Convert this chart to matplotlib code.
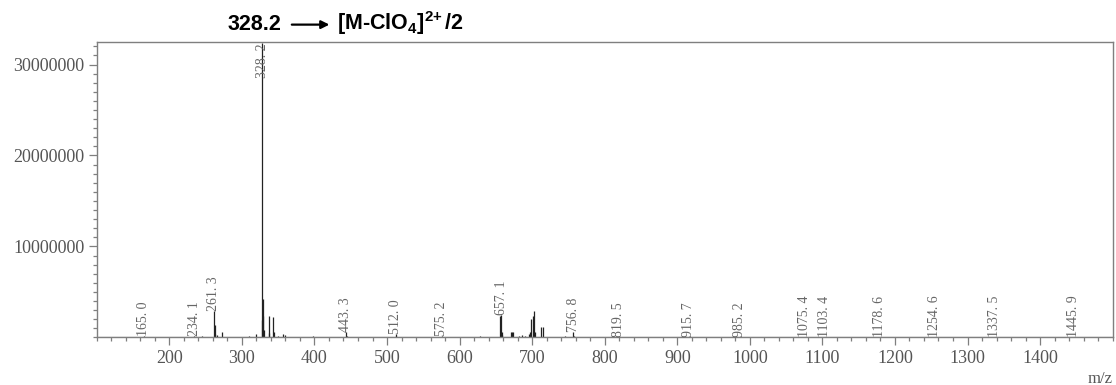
"""
ESI mass spectrum with labelled peaks.
"""

import matplotlib
matplotlib.use("Agg")
import matplotlib.pyplot as plt

# ------------------------------------------------------------
# Data
# ------------------------------------------------------------

# labelled peaks (m/z, intensity)
label_mz = [165.0, 234.1, 261.3, 328.2, 443.3, 512.0, 575.2, 657.1, 756.8,
            819.5, 915.7, 985.2, 1075.4, 1103.4, 1178.6, 1254.6, 1337.5, 1445.9]
label_int = [0.15e6, 0.12e6, 2.9e6, 32.4e6, 0.55e6, 0.35e6, 0.18e6, 2.5e6, 0.55e6,
             0.08e6, 0.06e6, 0.06e6, 0.05e6, 0.05e6, 0.05e6, 0.05e6, 0.05e6, 0.05e6]

# other peaks (isotopes, clusters)
peak_mz = [262.3, 263.3, 266.0, 273.2, 300.5, 320.0, 327.2, 328.7, 329.2, 330.2,
           336.7, 337.7, 343.2, 344.2, 350.3, 357.0, 359.0, 444.3, 513.0,
           655.6, 658.1, 659.1, 671.0, 672.5, 674.0, 682.0, 686.0, 690.0,
           695.0, 697.5, 698.8, 701.0, 703.2, 704.5, 712.8, 715.0, 757.8]
peak_int = [1.4e6, 0.35e6, 0.25e6, 0.6e6, 0.1e6, 0.35e6, 1.9e6, 4.2e6, 2.4e6, 0.8e6,
            2.4e6, 0.5e6, 2.2e6, 0.6e6, 0.2e6, 0.35e6, 0.25e6, 0.2e6, 0.15e6,
            2.4e6, 0.6e6, 0.3e6, 0.6e6, 0.65e6, 0.55e6, 0.2e6, 0.25e6, 0.2e6,
            0.35e6, 0.6e6, 2.0e6, 2.4e6, 2.9e6, 0.6e6, 1.1e6, 1.2e6, 0.2e6]

# baseline noise
noise_mz = [120, 135, 150, 178, 190, 205, 215, 245, 252, 280, 290, 310, 372, 385,
            398, 410, 425, 460, 475, 490, 530, 545, 560, 590, 605, 620, 628, 640,
            725, 735, 745, 770, 790, 850, 1010]
noise_int = [0.08e6, 0.05e6, 0.1e6, 0.06e6, 0.08e6, 0.05e6, 0.07e6, 0.12e6, 0.06e6,
             0.1e6, 0.08e6, 0.12e6, 0.1e6, 0.08e6, 0.12e6, 0.06e6, 0.08e6, 0.07e6,
             0.1e6, 0.08e6, 0.06e6, 0.1e6, 0.08e6, 0.1e6, 0.06e6, 0.08e6, 0.12e6,
             0.1e6, 0.1e6, 0.08e6, 0.12e6, 0.1e6, 0.06e6, 0.04e6, 0.04e6]

y_ticks = [10000000, 20000000, 30000000]
x_ticks = list(range(200, 1500, 100))

# ------------------------------------------------------------
# Plot
# ------------------------------------------------------------

plt.rcParams["mathtext.fontset"] = "custom"
plt.rcParams["mathtext.rm"] = "Liberation Sans:bold"
plt.rcParams["mathtext.bf"] = "Liberation Sans:bold"
plt.rcParams["mathtext.it"] = "Liberation Sans:bold"

grey = "#7f7f7f"
txt = "#555555"

fig = plt.figure(figsize=(11.16, 3.85), dpi=100)
ax = fig.add_axes([0.0867, 0.1235, 0.9103, 0.768])

all_mz = noise_mz + peak_mz + label_mz
all_int = noise_int + peak_int + label_int
ax.vlines(all_mz, 0, all_int, color="#222222", lw=0.9)
ax.axhline(0, color="#222222", lw=0.8)

ymax = 32.5e6
for mz, h in zip(label_mz, label_int):
    s = f"{mz:.1f}".replace(".", ". ")
    if h > 0.9 * ymax:
        ax.text(mz, ymax * 0.995, s, rotation=90, ha="center", va="top",
                fontsize=10, family="Liberation Serif", color="#666666")
    else:
        ax.text(mz, h, s, rotation=90, ha="center", va="bottom",
                fontsize=10, family="Liberation Serif", color="#666666")

ax.set_xlim(100, 1500)
ax.set_ylim(0, ymax)

ax.set_xticks(x_ticks)
ax.set_xticks(range(100, 1501, 20), minor=True)
ax.set_yticks(y_ticks)
ax.set_yticks(range(0, 32500001, 1000000), minor=True)
ax.set_yticklabels([str(v) for v in y_ticks])

for sp in ax.spines.values():
    sp.set_color(grey)
    sp.set_linewidth(1.0)

ax.tick_params(which="both", direction="out", color=grey, width=0.9,
               labelcolor=txt, labelsize=13)
ax.tick_params(which="major", length=6, pad=3)
ax.tick_params(which="minor", length=3)
for lab in ax.get_xticklabels() + ax.get_yticklabels():
    lab.set_family("Liberation Serif")

ax.set_xlabel("m/z", loc="right", family="Liberation Serif", fontsize=12,
              color=txt, labelpad=3)

# annotation for the base peak
ax.text(0.129, 1.04, "328.2", transform=ax.transAxes, ha="left",
        va="baseline", fontsize=15.5, family="Liberation Sans", weight="bold")
ax.annotate("", xy=(0.229, 1.058), xytext=(0.192, 1.058),
            xycoords="axes fraction", textcoords="axes fraction",
            arrowprops=dict(arrowstyle="-|>", color="black", lw=1.6,
                            mutation_scale=12, shrinkA=0, shrinkB=0))
ax.text(0.236, 1.04, r"[M-ClO$_4$]$^{2\!+}$/2", transform=ax.transAxes,
        ha="left", va="baseline", fontsize=15.5, family="Liberation Sans",
        weight="bold")

fig.savefig("out.png", dpi=100)
